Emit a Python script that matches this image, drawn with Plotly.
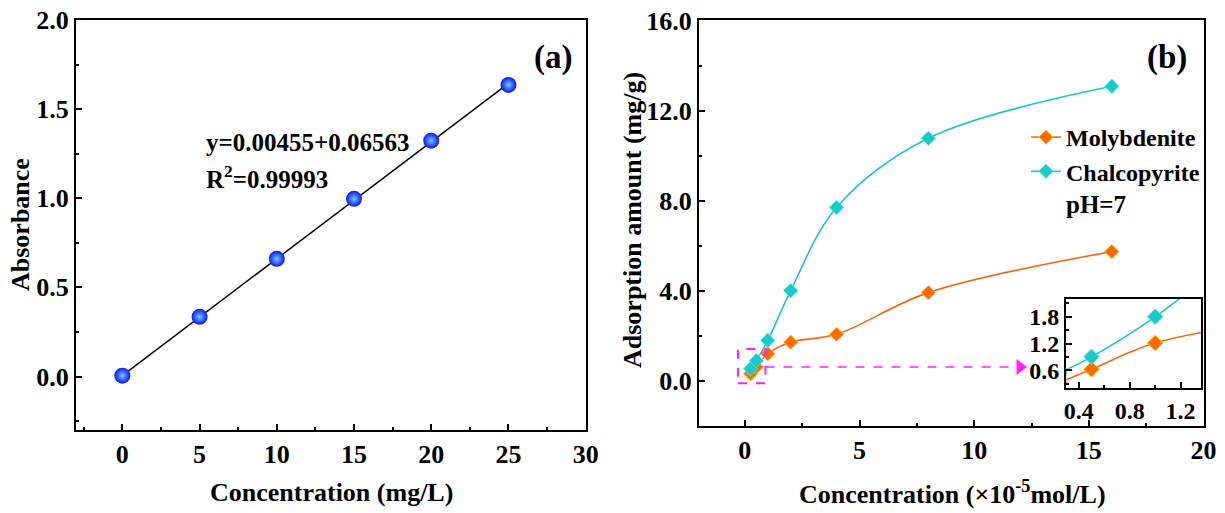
import plotly.graph_objects as go

# ---------------- data ----------------
# panel (a): calibration
conc_a = [0, 5, 10, 15, 20, 25]
absorb = [0.005, 0.335, 0.660, 0.997, 1.323, 1.636]
fit_x = [0, 25]
fit_y = [0.005, 1.645]
eq_text = "y=0.00455+0.06563"
r2_text = "R<sup>2</sup>=0.99993"

# panel (b): adsorption
conc_b = [0.25, 0.5, 1, 2, 4, 8, 16]
molybdenite = [0.32, 0.62, 1.21, 1.72, 2.07, 3.92, 5.74]
chalcopyrite = [0.54, 0.90, 1.80, 4.01, 7.70, 10.77, 13.08]

# zoom box and arrow (panel b data coords)
box_x = [-0.3, 0.9]
box_y = [-0.1, 1.42]
arrow_y = 0.62
arrow_x = [0.9, 11.7]
arrow_head_x = 12.0

# tick label lists
ticks_a_x = [0, 5, 10, 15, 20, 25, 30]
ticks_a_y = [0.0, 0.5, 1.0, 1.5, 2.0]
ticks_b_x = [0, 5, 10, 15, 20]
ticks_b_y = [0.0, 4.0, 8.0, 12.0, 16.0]
ticks_in_x = [0.4, 0.8, 1.2]
ticks_in_y = [0.6, 1.2, 1.8]

# ---------------- style ----------------
W, H = 1225, 513
FONT = "Liberation Serif"
ORANGE = "#F26A12"
ORANGE_M = "#FF6A00"
CYAN = "#1EC4C8"
CYAN_M = "#19CACA"
MAGENTA = "#FF22FF"

def px_x(p):
    return p / W

def px_y(p):
    return 1 - p / H

fig = go.Figure()

# panel (a)
fig.add_trace(go.Scatter(x=fit_x, y=fit_y, mode="lines", line=dict(color="black", width=1.5),
                         xaxis="x", yaxis="y", showlegend=False, hoverinfo="skip"))
fig.add_trace(go.Scatter(x=conc_a, y=absorb, mode="markers",
                         marker=dict(size=16, color="#0A14F0",
                                     gradient=dict(type="radial", color="#6FC8FF"),
                                     line=dict(width=0)),
                         xaxis="x", yaxis="y", showlegend=False))

# panel (b)
fig.add_trace(go.Scatter(x=conc_b, y=molybdenite, mode="lines+markers", name="Molybdenite",
                         line=dict(color=ORANGE, width=1.6, shape="spline", smoothing=1),
                         marker=dict(symbol="diamond", size=11, color=ORANGE_M,
                                     line=dict(color="#FFC21A", width=1)),
                         xaxis="x2", yaxis="y2"))
fig.add_trace(go.Scatter(x=conc_b, y=chalcopyrite, mode="lines+markers", name="Chalcopyrite",
                         line=dict(color=CYAN, width=1.6, shape="spline", smoothing=1),
                         marker=dict(symbol="diamond", size=11, color=CYAN_M,
                                     line=dict(color="#4EE6E6", width=1)),
                         xaxis="x2", yaxis="y2"))
# arrow head
fig.add_trace(go.Scatter(x=[arrow_head_x], y=[arrow_y], mode="markers",
                         marker=dict(symbol="triangle-right", size=14, color=MAGENTA),
                         xaxis="x2", yaxis="y2", showlegend=False, hoverinfo="skip"))

# inset
fig.add_trace(go.Scatter(x=conc_b, y=molybdenite, mode="lines+markers",
                         line=dict(color=ORANGE, width=1.6, shape="spline", smoothing=1),
                         marker=dict(symbol="diamond", size=12, color=ORANGE_M,
                                     line=dict(color="#FFC21A", width=1)),
                         xaxis="x3", yaxis="y3", showlegend=False, cliponaxis=True))
fig.add_trace(go.Scatter(x=conc_b, y=chalcopyrite, mode="lines+markers",
                         line=dict(color=CYAN, width=1.6, shape="spline", smoothing=1),
                         marker=dict(symbol="diamond", size=12, color=CYAN_M,
                                     line=dict(color="#4EE6E6", width=1)),
                         xaxis="x3", yaxis="y3", showlegend=False, cliponaxis=True))

tickfont = dict(family=FONT, size=26, color="black", weight="bold")
axis_common = dict(showline=True, mirror=True, linecolor="black", linewidth=2,
                   ticks="inside", ticklen=6, tickwidth=1.5, tickcolor="black",
                   showgrid=False, zeroline=False, automargin=False)
inset_font = dict(family=FONT, size=24, color="black", weight="bold")

fig.update_layout(
    template="none",
    width=W, height=H,
    margin=dict(l=0, r=0, t=0, b=0, pad=0),
    paper_bgcolor="white", plot_bgcolor="white",
    font=dict(family=FONT, color="black"),
    xaxis=dict(domain=[px_x(76), px_x(586)], range=[-3, 30.02], anchor="y",
               tickvals=ticks_a_x, ticktext=[str(v) for v in ticks_a_x], tickfont=tickfont,
               minor=dict(ticks="inside", dtick=2.5, tick0=0, ticklen=3, tickcolor="black"),
               **axis_common),
    yaxis=dict(domain=[px_y(430), px_y(20)], range=[-0.3, 2.0], anchor="x",
               tickvals=ticks_a_y, ticktext=[f"{v:.1f}" for v in ticks_a_y], tickfont=tickfont,
               minor=dict(ticks="inside", dtick=0.25, tick0=0, ticklen=3, tickcolor="black"),
               **axis_common),
    xaxis2=dict(domain=[px_x(699), px_x(1204)], range=[-2, 20.02], anchor="y2",
                tickvals=ticks_b_x, ticktext=[str(v) for v in ticks_b_x], tickfont=tickfont,
                minor=dict(ticks="inside", dtick=2.5, tick0=0, ticklen=3, tickcolor="black"),
                **axis_common),
    yaxis2=dict(domain=[px_y(426), px_y(20)], range=[-2, 16.02], anchor="x2",
                tickvals=ticks_b_y, ticktext=[f"{v:.1f}" for v in ticks_b_y], tickfont=tickfont,
                minor=dict(ticks="inside", dtick=2, tick0=0, ticklen=3, tickcolor="black"),
                **axis_common),
    xaxis3=dict(domain=[px_x(1066), px_x(1201)], range=[0.3, 1.36], anchor="y3",
                tickvals=ticks_in_x, ticktext=[f"{v:.1f}" for v in ticks_in_x], tickfont=inset_font,
                minor=dict(ticks="inside", dtick=0.2, tick0=0, ticklen=3, tickcolor="black"),
                **axis_common),
    yaxis3=dict(domain=[px_y(388), px_y(299)], range=[0.2, 2.2], anchor="x3",
                tickvals=ticks_in_y, ticktext=[f"{v:.1f}" for v in ticks_in_y], tickfont=inset_font,
                minor=dict(ticks="inside", dtick=0.3, tick0=0, ticklen=3, tickcolor="black"),
                **axis_common),
    legend=dict(x=px_x(1026), y=px_y(115), xanchor="left", yanchor="top",
                bgcolor="rgba(0,0,0,0)", borderwidth=0, tracegroupgap=0,
                font=dict(family=FONT, size=24, color="black", weight="bold")),
    showlegend=True,
)

# zoom box + dashed arrow line
fig.add_shape(type="rect", xref="x2", yref="y2", x0=box_x[0], x1=box_x[1], y0=box_y[0], y1=box_y[1],
              line=dict(color=MAGENTA, width=2, dash="dash"))
fig.add_shape(type="line", xref="x2", yref="y2", x0=arrow_x[0], x1=arrow_x[1], y0=arrow_y, y1=arrow_y,
              line=dict(color=MAGENTA, width=1.5, dash="dash"))

title_font = dict(family=FONT, size=26, color="black", weight="bold")
annos = [
    dict(text="Concentration (mg/L)", x=px_x(331), y=px_y(492), font=title_font),
    dict(text="Concentration (×10<sup>-5</sup>mol/L)", x=px_x(952), y=px_y(492), font=title_font),
    dict(text="Absorbance", x=px_x(20), y=px_y(225), textangle=-90, font=title_font),
    dict(text="Adsorption amount (mg/g)", x=px_x(632), y=px_y(220), textangle=-90, font=title_font),
    dict(text=eq_text, x=px_x(204), y=px_y(143), xanchor="left",
         font=dict(family=FONT, size=25, color="black", weight="bold")),
    dict(text=r2_text, x=px_x(204), y=px_y(177), xanchor="left",
         font=dict(family=FONT, size=25, color="black", weight="bold")),
    dict(text="(a)", x=px_x(553), y=px_y(57), font=dict(family=FONT, size=33, color="black", weight="bold")),
    dict(text="(b)", x=px_x(1167), y=px_y(57), font=dict(family=FONT, size=33, color="black", weight="bold")),
    dict(text="pH=7", x=px_x(1096), y=px_y(204), font=dict(family=FONT, size=25, color="black", weight="bold")),
]
for a in annos:
    base = dict(xref="paper", yref="paper", showarrow=False, xanchor="center", yanchor="middle")
    base.update(a)
    fig.add_annotation(**base)

fig.write_html("out.html")
